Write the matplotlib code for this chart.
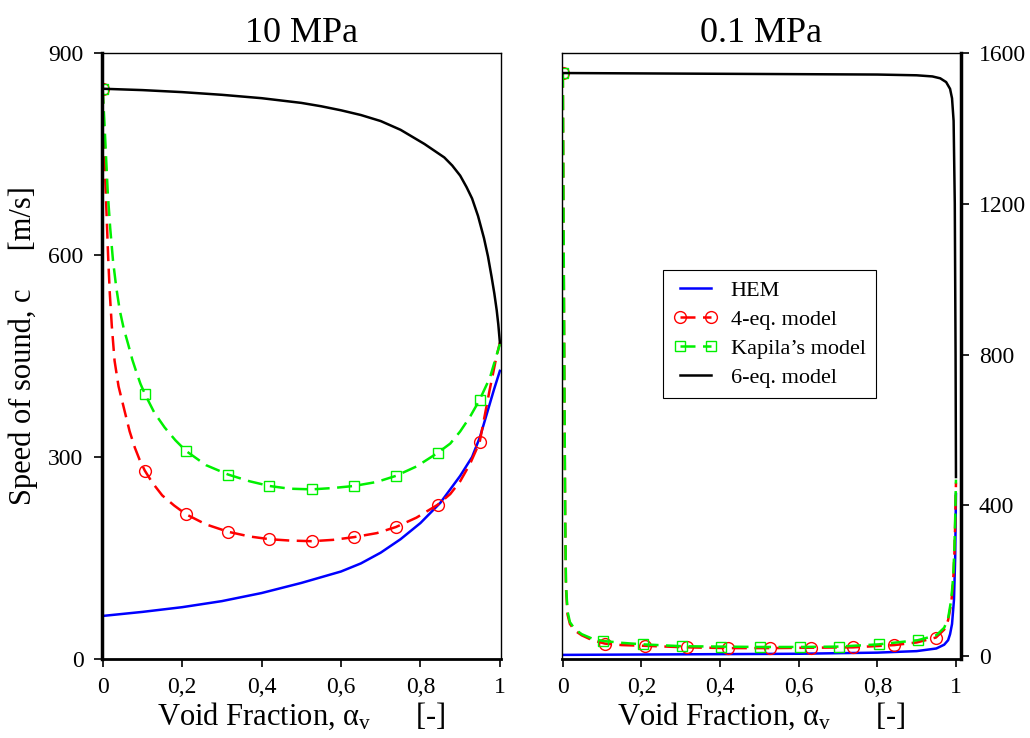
import numpy as np
import matplotlib
matplotlib.use("Agg")
import matplotlib.pyplot as plt

plt.rcParams['font.family'] = ['Liberation Serif', 'DejaVu Serif']
plt.rcParams['mathtext.fontset'] = 'custom'
plt.rcParams['mathtext.rm'] = 'Liberation Serif'
plt.rcParams['mathtext.it'] = 'Liberation Serif'

# ---- 10 MPa ----
hem10_x = [0, 0.1, 0.2, 0.3, 0.4, 0.5, 0.6, 0.65, 0.7, 0.75, 0.8, 0.85, 0.9, 0.93, 0.95, 0.97, 0.985, 1.0]
hem10_c = [64, 70, 77, 86, 98, 113, 130, 142, 158, 178, 202, 232, 272, 300, 330, 370, 400, 428]

eq4_10_x = [0, 0.002, 0.005, 0.008, 0.011, 0.014, 0.018, 0.023, 0.03, 0.04, 0.055, 0.068, 0.081,
            0.093, 0.106, 0.125, 0.15, 0.18, 0.21, 0.26, 0.316, 0.37, 0.42, 0.47, 0.527, 0.58,
            0.632, 0.69, 0.738, 0.79, 0.843, 0.875, 0.9, 0.925, 0.949, 0.974, 0.99, 1.0]
eq4_10_c = [847, 800, 741, 690, 642, 595, 543, 495, 443, 405, 369, 338, 314,
            296, 280, 262, 243, 228, 215, 200, 189, 182, 178, 176, 175, 177,
            181, 187, 196, 210, 229, 245, 264, 290, 322, 399, 445, 470]

kap10_x = [0, 0.002, 0.005, 0.009, 0.013, 0.019, 0.026, 0.034, 0.043, 0.053, 0.064, 0.075, 0.085,
           0.095, 0.106, 0.13, 0.156, 0.183, 0.21, 0.26, 0.316, 0.37, 0.42, 0.47, 0.527, 0.58,
           0.632, 0.69, 0.738, 0.79, 0.843, 0.875, 0.9, 0.925, 0.949, 0.975, 1.0]
kap10_c = [847, 825, 790, 740, 691, 640, 592, 553, 518, 491, 468, 444, 426,
           409, 394, 366, 344, 325, 309, 288, 274, 264, 257, 253, 252, 254,
           257, 263, 272, 286, 306, 320, 338, 360, 385, 418, 468]

eq6_10_x = [0, 0.1, 0.2, 0.3, 0.4, 0.5, 0.55, 0.6, 0.65, 0.7, 0.75, 0.81, 0.86, 0.88, 0.9, 0.916,
            0.93, 0.945, 0.96, 0.97, 0.979, 0.986, 0.992, 0.996, 1.0]
eq6_10_c = [847, 845, 842, 838, 833, 826, 821, 815, 808, 799, 786, 765, 745, 733, 718, 701,
            684, 658, 625, 598, 568, 543, 518, 497, 470]

marks10 = [0, 0.106, 0.21, 0.316, 0.42, 0.527, 0.632, 0.738, 0.843, 0.949]

# ---- 0.1 MPa ----
hem01_x = [0, 0.2, 0.4, 0.6, 0.8, 0.9, 0.95, 0.97, 0.98, 0.985, 0.99, 0.995, 0.998, 1.0]
hem01_c = [3, 4, 5, 6, 9, 13, 20, 30, 42, 58, 85, 150, 260, 430]

eq4_01_x = [0, 0.002, 0.004, 0.006, 0.008, 0.012, 0.018, 0.03, 0.048, 0.075, 0.107, 0.15, 0.21,
            0.316, 0.42, 0.527, 0.632, 0.738, 0.843, 0.9, 0.949, 0.97, 0.98, 0.988, 0.993,
            0.996, 0.998, 1.0]
eq4_01_c = [1548, 1100, 700, 350, 180, 110, 85, 68, 55, 42, 33, 29, 27,
            23, 21, 21, 22, 23, 29, 36, 49, 70, 95, 140, 200,
            270, 350, 460]

kap01_x = [0, 0.002, 0.004, 0.006, 0.008, 0.012, 0.018, 0.03, 0.048, 0.075, 0.102, 0.15, 0.203,
           0.303, 0.402, 0.501, 0.603, 0.702, 0.804, 0.903, 0.95, 0.97, 0.98, 0.988, 0.993,
           0.996, 0.998, 1.0]
kap01_c = [1548, 1120, 720, 370, 190, 118, 90, 72, 58, 46, 40, 35, 31,
           26, 25, 24, 24, 25, 31, 42, 55, 75, 100, 150, 210,
           285, 365, 468]

eq6_01_x = [0, 0.2, 0.4, 0.6, 0.8, 0.9, 0.94, 0.96, 0.975, 0.985, 0.99, 0.994, 0.997, 0.999, 1.0]
eq6_01_c = [1547, 1546, 1545, 1544, 1543, 1541, 1538, 1533, 1523, 1505, 1480, 1420, 1200, 800, 475]

marks01_eq4 = [0, 0.107, 0.21, 0.316, 0.42, 0.527, 0.632, 0.738, 0.843, 0.949]
marks01_kap = [0, 0.102, 0.203, 0.303, 0.402, 0.501, 0.603, 0.702, 0.804, 0.903]

xticks = [0, 0.2, 0.4, 0.6, 0.8, 1.0]
xtick_labels = ['0', '0,2', '0,4', '0,6', '0,8', '1']
yticks10 = [0, 300, 600, 900]
yticks01 = [0, 400, 800, 1200, 1600]

labels = ['HEM', '4-eq. model', "Kapila’s model", '6-eq. model']

GREEN = '#00f000'


def idx(xs, marks):
    return [i for i, a in enumerate(xs) if a in marks]


def draw(ax, hx, hc, rx, rc, kx, kc, bx, bc, mr, mk):
    ax.plot(hx, hc, color='#0000ff', lw=1.8, label=labels[0])
    ax.plot(rx, rc, color='#ff0000', lw=1.8, dashes=(6, 3), marker='o', ms=8.5,
            mfc='none', mec='#ff0000', mew=1.0, markevery=idx(rx, mr), label=labels[1])
    ax.plot(kx, kc, color=GREEN, lw=1.8, dashes=(6, 3), marker='s', ms=7,
            mfc='none', mec=GREEN, mew=1.0, markevery=idx(kx, mk), label=labels[2])
    ax.plot(bx, bc, color='black', lw=1.8, label=labels[3])


fig = plt.figure(figsize=(10.3, 7.38), dpi=100)
ax1 = fig.add_axes([0.0987, 0.107, 0.3874, 0.8211])
ax2 = fig.add_axes([0.5453, 0.107, 0.3874, 0.8211])

draw(ax1, hem10_x, hem10_c, eq4_10_x, eq4_10_c, kap10_x, kap10_c, eq6_10_x, eq6_10_c, marks10, marks10)
draw(ax2, hem01_x, hem01_c, eq4_01_x, eq4_01_c, kap01_x, kap01_c, eq6_01_x, eq6_01_c,
     marks01_eq4, marks01_kap)

ax1.set_xlim(-0.0025, 1.002)
ax1.set_ylim(0, 900)
ax2.set_xlim(-0.003, 1.012)
ax2.set_ylim(-8, 1600)

for ax in (ax1, ax2):
    ax.set_xticks(xticks)
    ax.set_xticklabels(xtick_labels)
    ax.tick_params(axis='both', direction='out', length=6, width=1.2, labelsize=17, pad=7)
    for s in ax.spines.values():
        s.set_linewidth(1.0)
    ax.spines['bottom'].set_linewidth(2.0)
    ax.set_xlabel(r'Void Fraction, $\alpha_{\mathrm{v}}$      [-]', fontsize=22, labelpad=2)

ax1.set_yticks(yticks10)
ax1.spines['left'].set_linewidth(2.5)
ax1.set_ylabel('Speed of sound, c     [m/s]', fontsize=22)
ax1.yaxis.set_label_coords(-0.16, 0.518)
ax1.set_title('10 MPa', fontsize=26, pad=8)

ax2.yaxis.tick_right()
ax2.set_yticks(yticks01)
ax2.spines['right'].set_linewidth(2.5)
ax2.set_title('0.1 MPa', fontsize=26, pad=8)

leg = ax2.legend(loc='upper left', bbox_to_anchor=(0.254, 0.642), borderaxespad=0, fontsize=16,
                 numpoints=2, handlelength=2.0, handletextpad=0.6, labelspacing=0.38,
                 borderpad=0.45, fancybox=False, framealpha=1, edgecolor='black')
leg.get_frame().set_linewidth(0.8)

fig.savefig('out.png', dpi=100)
